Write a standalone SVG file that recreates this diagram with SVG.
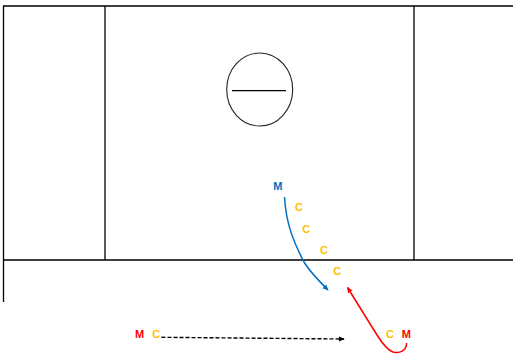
<svg xmlns="http://www.w3.org/2000/svg" width="513" height="354" viewBox="0 0 513 354">
<style>
.ln{stroke:#000;stroke-width:1.3;fill:none}
.t{font-family:"Liberation Sans",Arial,sans-serif;font-weight:bold;font-size:11px}
.y{fill:#FFC000}.b{fill:#0070C0}.r{fill:#FF0000}
</style>
<defs>
<marker id="ab" viewBox="0 0 8 8" refX="7" refY="4" markerWidth="6" markerHeight="6" markerUnits="userSpaceOnUse" orient="auto"><path d="M0,0.5 L8,4 L0,7.5z" fill="#0070C0"/></marker>
<marker id="ar" viewBox="0 0 8 8" refX="7" refY="4" markerWidth="6" markerHeight="6" markerUnits="userSpaceOnUse" orient="auto"><path d="M0,0.5 L8,4 L0,7.5z" fill="#FF0000"/></marker>
<marker id="ak" viewBox="0 0 8 8" refX="7" refY="4" markerWidth="6" markerHeight="6" markerUnits="userSpaceOnUse" orient="auto"><path d="M0,0.5 L8,4 L0,7.5z" fill="#000"/></marker>
</defs>
<g id="field">
<path class="ln" d="M3.5,302 V6 H513 M105,6 V260 M414,6 V260 M3,260 H513"/>
<ellipse cx="259.7" cy="89.5" rx="33" ry="36.5" fill="none" stroke="#222" stroke-width="1.1"/>
<line x1="232" y1="90.7" x2="286" y2="90.7" stroke="#000" stroke-width="1.2"/>
</g>
<g id="connectors">
<path d="M284.5,197 C286,225 295,245 304,262 C310,272 318,280 328,290" fill="none" stroke="#0070C0" stroke-width="1.5" marker-end="url(#ab)"/>
<path d="M406.5,343 C407,350 400,354 393,352 C387,350 382,343 377,335 L347.5,287.5" fill="none" stroke="#FF0000" stroke-width="1.5" marker-end="url(#ar)"/>
<path d="M161.5,337.3 L344,339" fill="none" stroke="#000" stroke-width="1.4" stroke-dasharray="4,2" marker-end="url(#ak)"/>
</g>
<g id="labels">
<text id="m-blue" class="t b" x="273.2" y="189.5">M</text>
<text id="c1" class="t y" x="295" y="210.7">C</text>
<text id="c2" class="t y" x="302.3" y="232.7">C</text>
<text id="c3" class="t y" x="320" y="254">C</text>
<text id="c4" class="t y" x="333.3" y="274.7">C</text>
<text id="m-left" class="t r" x="135" y="338">M</text>
<text id="c-left" class="t y" x="152.3" y="338">C</text>
<text id="c-right" class="t y" x="386" y="338">C</text>
<text id="m-right" class="t r" x="401.7" y="338">M</text>
</g>
</svg>
